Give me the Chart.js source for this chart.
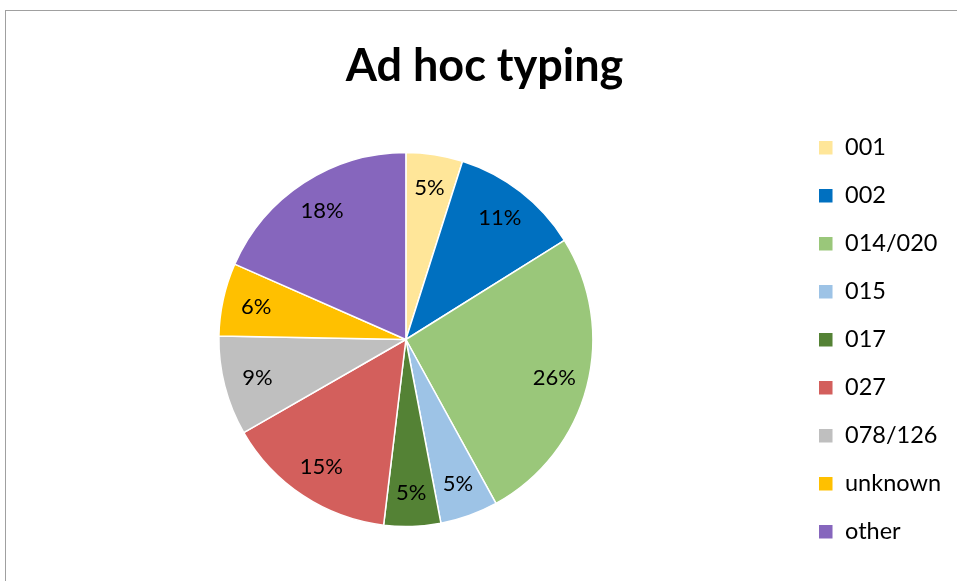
<!DOCTYPE html>
<html>
<head>
<meta charset="utf-8">
<script src="https://cdn.jsdelivr.net/npm/chart.js@4"></script>
<style>
  html, body { margin: 0; padding: 0; background: #fff; overflow: hidden; }
  #frame { position: absolute; left: 5px; top: 10px; width: 1200px; height: 800px; border: 1px solid #a0a0a0; }
  #wrap { position: absolute; left: 0; top: 0; width: 957px; height: 581px; }
</style>
</head>
<body>
<div id="frame"></div>
<div id="wrap"><canvas id="c" width="957" height="581"></canvas></div>
<script>
const categories = ["001", "002", "014/020", "015", "017", "027", "078/126", "unknown", "other"];
const shares = [4.9, 11.2, 25.9, 5.0, 4.9, 14.8, 8.6, 6.3, 18.4];
const sliceColors = ["#FFE699", "#0070C0", "#9AC77A", "#9DC3E6", "#548235", "#D35F5C", "#BFBFBF", "#FFC000", "#8666BD"];
const titleText = "Ad hoc typing";

const FONT = "Lato, 'Open Sans', sans-serif";

const labelPlugin = {
  id: 'sliceLabels',
  afterDatasetsDraw(chart) {
    const ctx = chart.ctx;
    const meta = chart.getDatasetMeta(0);
    const data = chart.data.datasets[0].data;
    const total = data.reduce((a, b) => a + b, 0);
    ctx.save();
    ctx.font = "22px " + FONT;
    ctx.fillStyle = "#000";
    ctx.textAlign = "center";
    ctx.textBaseline = "middle";
    meta.data.forEach((arc, i) => {
      const p = arc.getProps(['x', 'y', 'startAngle', 'endAngle', 'outerRadius'], true);
      const mid = (p.startAngle + p.endAngle) / 2;
      const r = p.outerRadius * 0.82;
      const txt = Math.round(data[i] / total * 100) + "%";
      ctx.fillText(txt, p.x + Math.cos(mid) * r, p.y + Math.sin(mid) * r);
    });
    ctx.restore();
  }
};

new Chart(document.getElementById('c'), {
  type: 'pie',
  data: {
    labels: categories,
    datasets: [{
      data: shares,
      backgroundColor: sliceColors,
      borderColor: "#ffffff",
      borderWidth: 1.5,
      radius: 187
    }]
  },
  options: {
    responsive: false,
    animation: false,
    devicePixelRatio: 1,
    layout: { padding: { top: 0, left: 18, right: 6, bottom: 13 } },
    plugins: {
      title: {
        display: true,
        text: titleText,
        color: "#000",
        font: { family: FONT, size: 45, weight: 'bold', lineHeight: 1.2 },
        padding: { top: 39.5, bottom: 17.5 }
      },
      legend: {
        position: 'right',
        align: 'end',
        labels: {
          color: "#000",
          font: { family: FONT, size: 23.5 },
          boxWidth: 15,
          boxHeight: 15,
          padding: 24.5
        }
      },
      tooltip: { enabled: false }
    }
  },
  plugins: [labelPlugin]
});
</script>
</body>
</html>
